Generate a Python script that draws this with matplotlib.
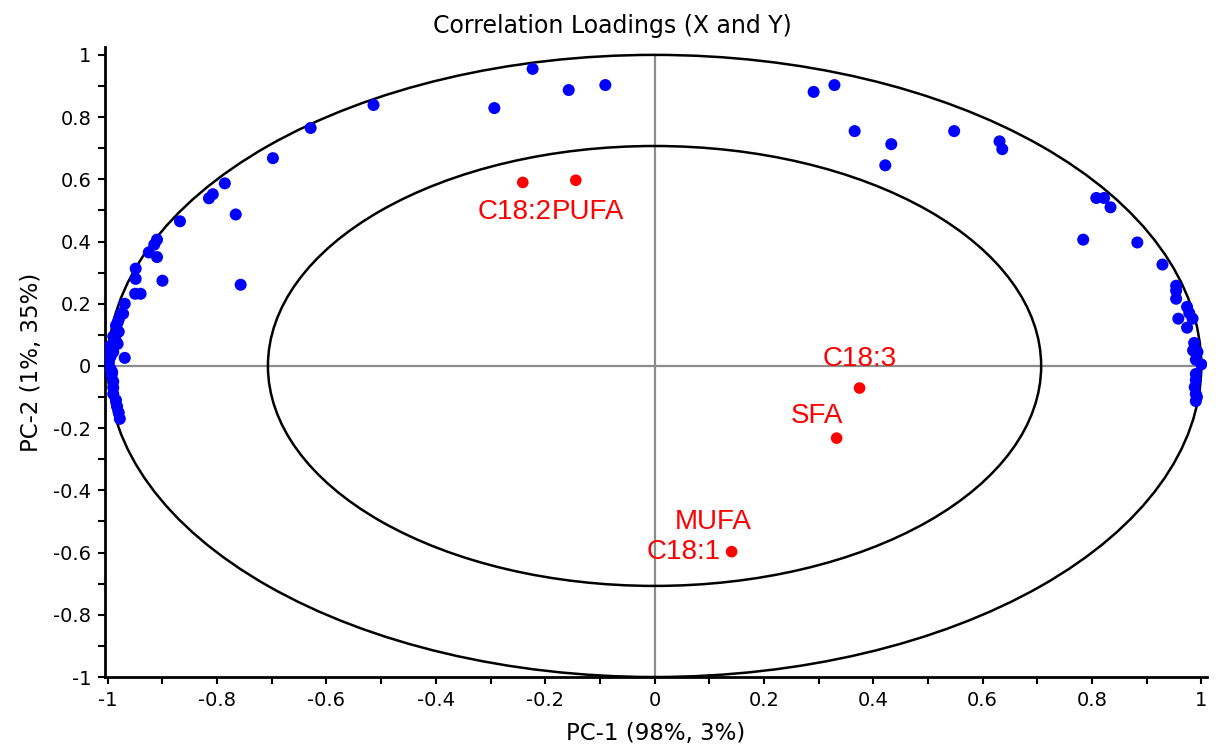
import numpy as np
import matplotlib.pyplot as plt
from matplotlib.patches import Ellipse
from matplotlib.ticker import MultipleLocator, FuncFormatter

plt.rcParams['font.family'] = ['DejaVu Sans']

# X-loadings (blue)
blue_x = [-0.514, -0.629, -0.698, -0.786, -0.808, -0.815, -0.766, -0.868, -0.910, -0.915,
          -0.925, -0.910, -0.900, -0.949, -0.949, -0.950, -0.940, -0.757, -0.969, -0.972,
          -0.969, -0.982, -0.985, -0.982, -1.000,
          -0.975, -0.980, -0.985, -0.980, -0.990, -0.985, -0.995, -0.990, -0.995, -0.998,
          -0.995, -0.993, -0.990, -0.990, -0.990, -0.985, -0.983, -0.980, -0.978, -0.992,
          -0.293, -0.223, -0.157, -0.090,
          0.291, 0.329, 0.366, 0.433, 0.422, 0.548, 0.631, 0.636,
          0.808, 0.822, 0.834, 0.784, 0.883, 0.929, 0.954, 0.954, 0.954, 0.958,
          0.974, 0.978, 0.984, 0.974, 0.987, 0.985, 0.993, 0.990, 1.000, 0.990,
          0.990, 0.988, 0.990, 0.990, 0.992]
blue_y = [0.839, 0.765, 0.668, 0.587, 0.552, 0.539, 0.487, 0.465, 0.406, 0.390,
          0.365, 0.350, 0.274, 0.313, 0.280, 0.232, 0.232, 0.261, 0.200, 0.168,
          0.026, 0.139, 0.103, 0.071, 0.058,
          0.170, 0.150, 0.130, 0.110, 0.095, 0.080, 0.065, 0.045, 0.030, 0.010,
          -0.010, -0.030, -0.050, -0.070, -0.090, -0.110, -0.130, -0.150, -0.170, -0.020,
          0.829, 0.955, 0.887, 0.903,
          0.881, 0.903, 0.755, 0.713, 0.645, 0.755, 0.722, 0.697,
          0.540, 0.540, 0.510, 0.406, 0.397, 0.326, 0.258, 0.242, 0.216, 0.152,
          0.190, 0.170, 0.152, 0.123, 0.074, 0.050, 0.045, 0.020, 0.005, -0.026,
          -0.045, -0.068, -0.090, -0.113, -0.100]

# Y-loadings (red)
red_x = [-0.241, -0.144, 0.375, 0.333, 0.141]
red_y = [0.590, 0.597, -0.071, -0.232, -0.597]
red_labels = ['C18:2', 'PUFA', 'C18:3', 'SFA', 'C18:1']

fig = plt.figure(figsize=(12.16, 7.49), dpi=100)
ax = fig.add_axes([0.0864, 0.0961, 0.906, 0.841])

ax.plot([-1, 1], [0, 0], color='#8c8c8c', lw=1.6, zorder=1)
ax.plot([0, 0], [-1, 1], color='#8c8c8c', lw=1.6, zorder=1)
for r in [1.0, np.sqrt(0.5)]:
    ax.add_patch(Ellipse((0, 0), 2 * r, 2 * r, fill=False, ec='black', lw=1.8, zorder=2))

ax.scatter(blue_x, blue_y, s=75, color='#0000ff', edgecolors='none', zorder=3)
ax.scatter(red_x, red_y, s=70, color='#ff0000', edgecolors='none', zorder=4)

# label offsets (points) for each red marker
offs = [(-6, -21, 'center'), (9, -23, 'center'), (0, 21, 'center'),
        (-14, 16, 'center'), (-8, 0, 'right')]
for xv, yv, lab, (dx, dy, ha) in zip(red_x, red_y, red_labels, offs):
    ax.annotate(lab, (xv, yv), xytext=(dx, dy), textcoords='offset points',
                ha=ha, va='center', color='#ff0000', fontsize=20,
                family='Liberation Sans')
ax.annotate('MUFA', (red_x[4], red_y[4]), xytext=(-13, 21), textcoords='offset points',
            ha='center', va='center', color='#ff0000', fontsize=20,
            family='Liberation Sans')

ax.set_xlim(-1.005, 1.01)
ax.set_ylim(-1.0, 1.025)
ax.spines['top'].set_visible(False)
ax.spines['right'].set_visible(False)
ax.spines['left'].set_linewidth(2)
ax.spines['bottom'].set_linewidth(2)

fmt = FuncFormatter(lambda v, p: f"{v:g}" if abs(v) > 1e-9 else "0")
for axis in (ax.xaxis, ax.yaxis):
    axis.set_major_locator(MultipleLocator(0.2))
    axis.set_minor_locator(MultipleLocator(0.1))
    axis.set_major_formatter(fmt)
ax.tick_params(which='both', direction='out', length=5, width=1.5, labelsize=14, pad=5)

ax.set_xlabel('PC-1 (98%, 3%)', fontsize=16.5, labelpad=9)
ax.set_ylabel('PC-2 (1%, 35%)', fontsize=16.5, labelpad=7)
fig.text(0.504, 0.965, 'Correlation Loadings (X and Y)', ha='center', va='center',
         fontsize=17)

fig.savefig('out.png', dpi=100)
